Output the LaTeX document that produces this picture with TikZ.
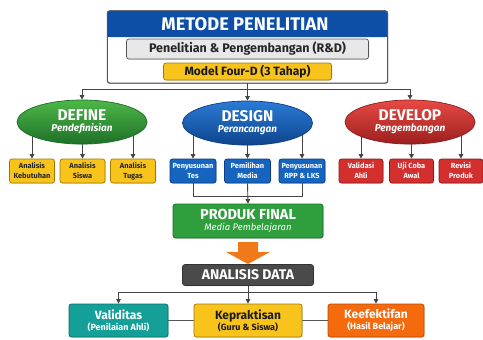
\documentclass[tikz,border=0pt]{standalone}
\usepackage{fontspec}
\setmainfont{Fira Sans}
\usetikzlibrary{arrows.meta,shadows,positioning,shapes.geometric}
\pgfdeclarelayer{bg}
\pgfsetlayers{bg,main}
\definecolor{hdrblue}{HTML}{0D4EA6}
\definecolor{edgegrey}{HTML}{555555}
\definecolor{lightgrey}{HTML}{E8E8E8}
\definecolor{ylw}{HTML}{F8C41C}
\definecolor{ylwd}{HTML}{A07A00}
\definecolor{grn}{HTML}{2F9E3C}
\definecolor{grnl}{HTML}{4CB848}
\definecolor{grnd}{HTML}{1D6B25}
\definecolor{blu}{HTML}{1565C0}
\definecolor{blul}{HTML}{2A7BD6}
\definecolor{blud}{HTML}{0D3C80}
\definecolor{rd}{HTML}{D32F2F}
\definecolor{rdl}{HTML}{E84A44}
\definecolor{rdd}{HTML}{8E1B1B}
\definecolor{dgrey}{HTML}{4A4A4A}
\definecolor{teal}{HTML}{14A099}
\definecolor{teald}{HTML}{0B6B66}
\definecolor{orng}{HTML}{F56A0C}
\definecolor{orngd}{HTML}{B84A00}
\definecolor{arrorng}{HTML}{F07A1A}
\definecolor{conn}{HTML}{444444}
\tikzset{
  shd/.style={drop shadow={opacity=0.25,shadow xshift=0.8pt,shadow yshift=-0.8pt}},
  box/.style={rectangle,rounded corners=2.5pt,line width=0.7pt,inner sep=1pt,align=center,shd},
  smallbox/.style={box,minimum width=45pt,minimum height=24pt,font=\fontsize{7.4}{10}\selectfont\bfseries},
  ybox/.style={smallbox,fill=ylw,draw=ylwd,text=black!85},
  bbox/.style={smallbox,fill=blu,draw=blud,text=white},
  rbox/.style={smallbox,fill=rd,draw=rdd,text=white},
  phase/.style={ellipse,minimum width=130pt,minimum height=44pt,inner sep=0pt,line width=0.7pt,align=center,text=white,shd},
  arr/.style={draw=conn,line width=0.9pt,-{Triangle[length=4.5pt,width=4.5pt]}},
  ln/.style={draw=conn,line width=0.9pt},
  res/.style={box,minimum height=33pt,text=white,align=center},
}
\begin{document}
\begin{tikzpicture}[x=1pt,y=-1pt]
\useasboundingbox (0,0) rectangle (483,340);
% top box
\node[box,fill=white,draw=edgegrey,minimum width=280pt,minimum height=72pt] (top) at (247.5,47) {};
\fill[hdrblue,rounded corners=2.5pt] (top.north west) rectangle (387,37);
\fill[hdrblue] (107.5,25) rectangle (387,37);
\draw[edgegrey,line width=0.7pt,rounded corners=2.5pt] (top.north west) rectangle (top.south east);
\node[text=white,font=\fontsize{18.3}{20}\selectfont\bfseries] (title) at (245,24) {METODE PENELITIAN};
\node[box,fill=lightgrey,draw=edgegrey,minimum width=242pt,minimum height=20pt,font=\fontsize{12.5}{14}\selectfont\bfseries,text=black!85] (rnd) at (247.5,49) {Penelitian \& Pengembangan (R\&D)};
\node[box,fill=ylw,draw=ylwd,minimum width=168pt,minimum height=17pt,font=\fontsize{12}{13}\selectfont\bfseries,text=black!90] (model) at (247.5,71.5) {Model Four-D (3 Tahap)};
% phases
\node[phase,top color=grnl,bottom color=grnd!90!grn,draw=grnd] (def) at (82,122)
  {{\fontsize{15.5}{16}\selectfont\bfseries DEFINE}\\[-1pt]{\fontsize{10}{11}\selectfont\bfseries\itshape Pendefinisian}};
\node[phase,top color=blul,bottom color=blud!80!blu,draw=blud] (des) at (247.5,123)
  {{\fontsize{15.5}{16}\selectfont\bfseries DESIGN}\\[-1pt]{\fontsize{10}{11}\selectfont\bfseries\itshape Perancangan}};
\node[phase,top color=rdl,bottom color=rdd!80!rd,draw=rdd] (dev) at (410,122)
  {{\fontsize{15.5}{16}\selectfont\bfseries DEVELOP}\\[-1pt]{\fontsize{10}{11}\selectfont\bfseries\itshape Pengembangan}};
\coordinate (j1) at (247.5,89);
\draw[ln] (top.south) -- (j1);
\draw[arr] (j1) -| (def.north);
\draw[arr] (j1) -- (des.north);
\draw[arr] (j1) -| (dev.north);
% small boxes
\node[ybox] (a1) at (32,171) {Analisis\\Kebutuhan};
\node[ybox] (a2) at (82.5,171) {Analisis\\Siswa};
\node[ybox] (a3) at (133,171) {Analisis\\Tugas};
\node[bbox,minimum width=46pt] (b1) at (193,171) {Penyusunan\\Tes};
\node[bbox,minimum width=46pt] (b2) at (247.5,171) {Pemilihan\\Media};
\node[bbox,minimum width=46pt] (b3) at (302,171) {Penyusunan\\RPP \& LKS};
\node[rbox,minimum width=44pt] (c1) at (361,171) {Validasi\\Ahli};
\node[rbox,minimum width=44pt] (c2) at (411.5,171) {Uji Coba\\Awal};
\node[rbox,minimum width=44pt] (c3) at (461,171) {Revisi\\Produk};
\begin{pgfonlayer}{bg}
\foreach \b/\p in {a1/def,a2/def,a3/def,b1/des,b2/des,b3/des,c1/dev,c2/dev,c3/dev}
  \draw[arr] (\b.north |- \p.center) -- (\b.north);
\end{pgfonlayer}
% produk final
\node[box,fill=grn,draw=grnd,minimum width=150pt,minimum height=34pt,text=white] (pf) at (248,221)
  {{\fontsize{14.5}{15}\selectfont\bfseries PRODUK FINAL}\\[-1pt]{\fontsize{9.5}{10}\selectfont\itshape Media Pembelajaran}};
\coordinate (j3) at (247.5,196);
\draw[ln] (b1.south) -- (b1.south |- j3) -- (b3.south |- j3) -- (b3.south);
\draw[arr] (b2.south) -- (pf.north);
% analisis data
\node[box,fill=dgrey,draw=black!80,minimum width=131pt,minimum height=21pt,text=white,font=\fontsize{14}{15}\selectfont\bfseries] (ad) at (248,275) {ANALISIS DATA};
\fill[arrorng] (238,242) -- (258,242) -- (258,252) -- (270,252) -- (248,264) -- (226,252) -- (238,252) -- cycle;
% results
\node[res,fill=teal,draw=teald,minimum width=99pt] (val) at (118.5,320.5)
  {{\fontsize{12}{13}\selectfont\bfseries Validitas}\\[-1pt]{\fontsize{9}{10}\selectfont\bfseries (Penilaian Ahli)}};
\node[res,fill=ylw,draw=ylwd,minimum width=108pt,text=black!90] (kep) at (248,320.5)
  {{\fontsize{12}{13}\selectfont\bfseries Kepraktisan}\\[-1pt]{\fontsize{9}{10}\selectfont\bfseries (Guru \& Siswa)}};
\node[res,fill=orng,draw=orngd,minimum width=96pt] (kef) at (376,320.5)
  {{\fontsize{12}{13}\selectfont\bfseries Keefektifan}\\[-1pt]{\fontsize{9}{10}\selectfont\bfseries (Hasil Belajar)}};
\coordinate (j2) at (248,292);
\draw[ln] (ad.south) -- (j2);
\draw[arr] (j2) -| (val.north);
\draw[arr] (j2) -- (kep.north);
\draw[arr] (j2) -| (kef.north);
\begin{pgfonlayer}{bg}
\draw[ln,draw=edgegrey] (val.east) -- (kep.west);
\draw[ln,draw=edgegrey] (kep.east) -- (kef.west);
\end{pgfonlayer}
\end{tikzpicture}
\end{document}
